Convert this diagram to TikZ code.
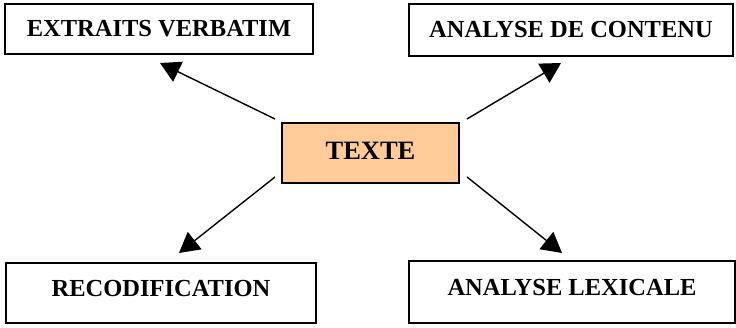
\documentclass[tikz,border=0pt]{standalone}
\usepackage{fontspec}
\setmainfont{Liberation Serif}
\usetikzlibrary{arrows.meta}
\definecolor{orangefill}{HTML}{FFCC99}
\tikzset{
  box/.style={draw=black, line width=1.6pt, fill=white, inner sep=0pt},
  lbl/.style={font=\fontsize{24.5}{29}\selectfont\bfseries, inner sep=0pt},
  arr/.style={line width=1.4pt, -{Triangle[length=20pt,width=22pt]}}
}
\begin{document}
\begin{tikzpicture}[x=1pt,y=-1pt]
\useasboundingbox (0,0) rectangle (736,328);
% boxes
\node[box, minimum width=308pt, minimum height=50pt] (ev) at (159,29) {};
\node[lbl] (evt) at (ev.center) {EXTRAITS VERBATIM};
\node[box, minimum width=324pt, minimum height=52pt] (adc) at (571,30) {};
\node[lbl] (adct) at (adc.center) {ANALYSE DE CONTENU};
\node[box, fill=orangefill, minimum width=177pt, minimum height=60pt] (tx) at (370.5,153) {};
\node[lbl, font=\fontsize{26.5}{31}\selectfont\bfseries, yshift=2pt] (txt) at (tx.center) {TEXTE};
\node[box, minimum width=310pt, minimum height=60pt] (rec) at (161,293) {};
\node[lbl, yshift=4pt] (rect) at (rec.center) {RECODIFICATION};
\node[box, minimum width=326pt, minimum height=62pt] (al) at (572,292) {};
\node[lbl, yshift=4pt] (alt) at (al.center) {ANALYSE LEXICALE};
% connector end points
\coordinate (s1) at (275,119);
\coordinate (e1) at (160,63);
\coordinate (s2) at (467,119);
\coordinate (e2) at (561,63);
\coordinate (s3) at (275,177);
\coordinate (e3) at (179,253);
\coordinate (s4) at (467,177);
\coordinate (e4) at (562,253);
\draw[arr] (s1) -- (e1);
\draw[arr] (s2) -- (e2);
\draw[arr] (s3) -- (e3);
\draw[arr] (s4) -- (e4);
\end{tikzpicture}
\end{document}
